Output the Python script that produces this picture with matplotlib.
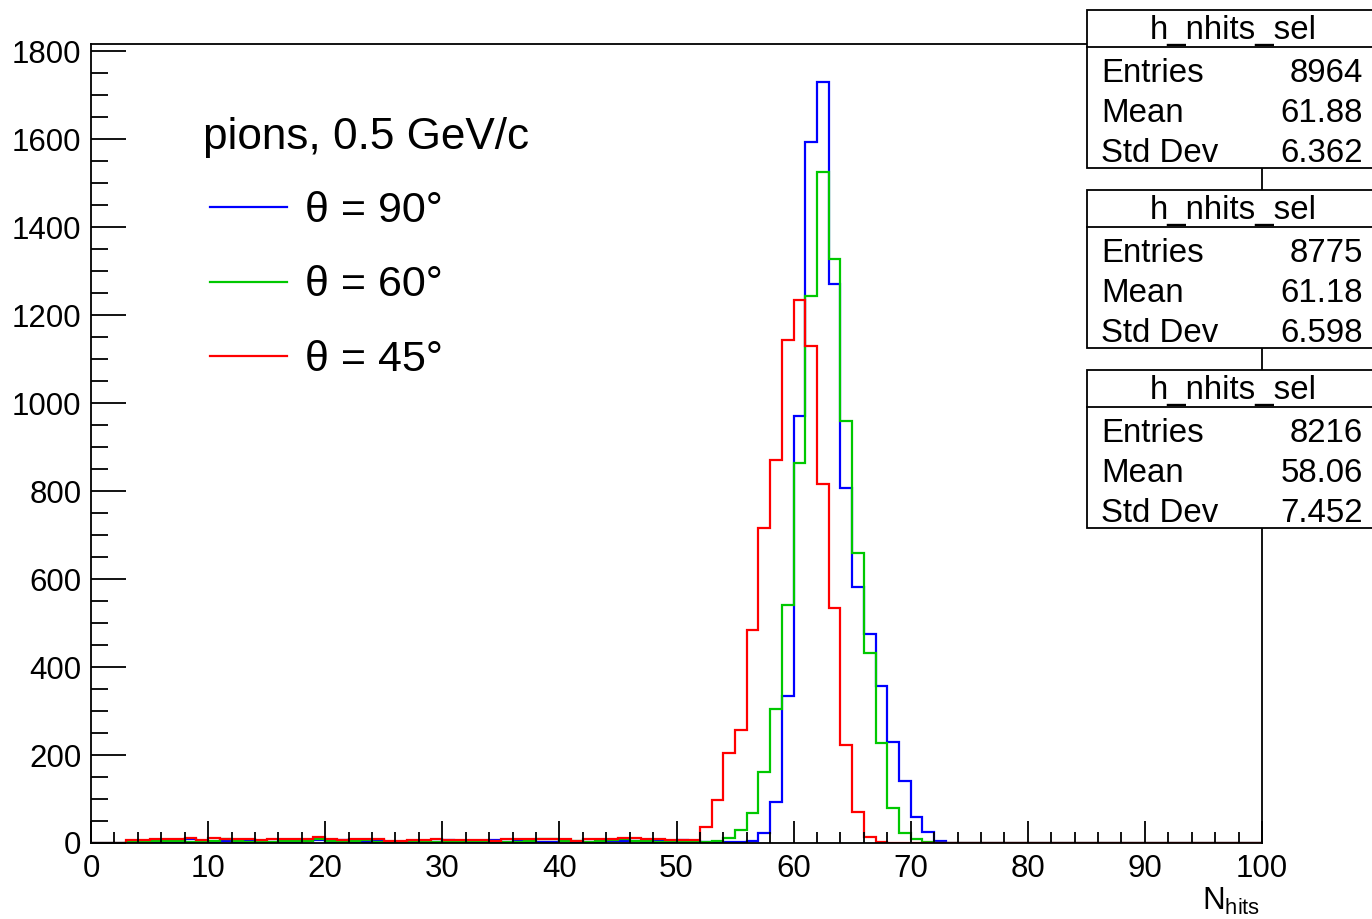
import numpy as np
import matplotlib
matplotlib.use('Agg')
import matplotlib.pyplot as plt
from matplotlib.patches import Rectangle
from matplotlib.lines import Line2D
from matplotlib.ticker import MultipleLocator

plt.rcParams['font.family'] = ['Liberation Sans', 'DejaVu Sans']
plt.rcParams['mathtext.default'] = 'regular'

# ---------------- data (bin contents, 100 bins of width 1 from 0 to 100) -------------
bin_edges = list(range(0, 101))

h_theta90 = [0, 0, 0, 1, 1, 2, 2, 3, 8, 3,
             3, 5, 3, 7, 3, 2, 3, 3, 4, 7,
             3, 7, 3, 3, 6, 3, 3, 2, 3, 3,
             7, 3, 3, 3, 6, 3, 4, 3, 3, 3,
             4, 3, 3, 3, 4, 5, 4, 3, 4, 3,
             6, 4, 3, 3, 2, 3, 5, 22, 94, 334,
             970, 1594, 1730, 1271, 807, 583, 475, 358, 229, 142,
             60, 24, 4, 1, 0, 0, 0, 0, 0, 0,
             0, 0, 0, 0, 0, 0, 0, 0, 0, 0,
             0, 0, 0, 0, 0, 0, 0, 0, 0, 0]

h_theta60 = [0, 0, 0, 2, 2, 4, 4, 4, 3, 3,
             5, 10, 4, 3, 3, 3, 4, 5, 4, 9,
             4, 3, 5, 6, 3, 3, 3, 4, 3, 2,
             3, 3, 4, 4, 3, 3, 3, 4, 8, 9,
             4, 5, 3, 4, 6, 8, 4, 4, 3, 4,
             3, 3, 3, 5, 11, 30, 69, 162, 304, 541,
             865, 1243, 1526, 1328, 960, 659, 433, 227, 79, 22,
             9, 2, 0, 0, 0, 0, 0, 0, 0, 0,
             0, 0, 0, 0, 0, 0, 0, 0, 0, 0,
             0, 0, 0, 0, 0, 0, 0, 0, 0, 0]

h_theta45 = [0, 0, 0, 6, 6, 8, 8, 8, 12, 7,
             12, 9, 8, 8, 6, 8, 8, 10, 8, 13,
             8, 6, 8, 10, 8, 4, 4, 7, 7, 10,
             6, 6, 6, 6, 5, 8, 10, 8, 8, 8,
             8, 5, 9, 8, 8, 12, 11, 10, 8, 7,
             7, 6, 37, 98, 204, 257, 485, 716, 871, 1144,
             1234, 1129, 816, 534, 223, 71, 14, 2, 0, 0,
             0, 0, 0, 0, 0, 0, 0, 0, 0, 0,
             0, 0, 0, 0, 0, 0, 0, 0, 0, 0,
             0, 0, 0, 0, 0, 0, 0, 0, 0, 0]

series_labels = ['\u03b8 = 90\u00b0', '\u03b8 = 60\u00b0', '\u03b8 = 45\u00b0']
series_colors = ['#0000ff', '#00c800', '#ff0000']
legend_header = 'pions, 0.5 GeV/c'

stats_name = 'h_nhits_sel'
stats_entries = ['8964', '8775', '8216']
stats_mean = ['61.88', '61.18', '58.06']
stats_std = ['6.362', '6.598', '7.452']

# ---------------- figure ----------------
W, H = 1372, 919
fig = plt.figure(figsize=(W / 100, H / 100), dpi=100)


def fx(x):
    return x / W


def fy(y):
    return 1 - y / H


ax = fig.add_axes([fx(91), fy(843), fx(1262) - fx(91), fy(44) - fy(843)])

for vals, col in zip([h_theta90, h_theta60, h_theta45], series_colors):
    ax.stairs(vals, bin_edges, color=col, lw=1.6)

ax.set_xlim(0, 100)
ax.set_ylim(0, 1.05 * max(h_theta90))
ax.xaxis.set_major_locator(MultipleLocator(10))
ax.xaxis.set_minor_locator(MultipleLocator(2))
ax.yaxis.set_major_locator(MultipleLocator(200))
ax.yaxis.set_minor_locator(MultipleLocator(50))
ax.tick_params(axis='both', which='both', direction='in', labelsize=22.5,
               width=1.3, color='black')
ax.tick_params(axis='x', which='major', length=16, pad=8)
ax.tick_params(axis='x', which='minor', length=8)
ax.tick_params(axis='y', which='major', length=25, pad=7)
ax.tick_params(axis='y', which='minor', length=12.5)
for s in ax.spines.values():
    s.set_linewidth(1.3)

# axis title
fig.text(fx(1260), fy(910), r'N$_{hits}$', ha='right', va='baseline', fontsize=22.5)

# legend (manual, ROOT-like)
fig.text(fx(203), fy(149), legend_header, fontsize=31.8, va='baseline', ha='left')
leg_y = [207, 281.5, 356]
for lab, col, yy in zip(series_labels, series_colors, leg_y):
    fig.add_artist(Line2D([fx(210), fx(287)], [fy(yy), fy(yy)],
                          transform=fig.transFigure, color=col, lw=1.6))
    fig.text(fx(305), fy(yy + 15), lab, fontsize=31, va='baseline', ha='left')

# stats boxes
box_tops = [10, 190, 370]
for top, ent, mean, std in zip(box_tops, stats_entries, stats_mean, stats_std):
    h = 158
    rect = Rectangle((fx(1087), fy(top + h)), fx(1376) - fx(1087), h / H,
                     transform=fig.transFigure, facecolor='white',
                     edgecolor='black', lw=1.3, zorder=10)
    fig.add_artist(rect)
    fig.add_artist(Line2D([fx(1087), fx(1376)], [fy(top + 37), fy(top + 37)],
                          transform=fig.transFigure, color='black', lw=1.3,
                          zorder=11))
    fig.text(fx(1233), fy(top + 21), stats_name, ha='center', va='center',
             fontsize=23.8, zorder=12)
    for i, (lab, val) in enumerate(zip(['Entries', 'Mean', 'Std Dev'],
                                       [ent, mean, std])):
        yy = top + 63 + 40 * i
        fig.text(fx(1101), fy(yy), lab, ha='left', va='center',
                 fontsize=23.8, zorder=12)
        fig.text(fx(1363), fy(yy), val, ha='right', va='center',
                 fontsize=23.8, zorder=12)

fig.savefig('out.png', dpi=100)
